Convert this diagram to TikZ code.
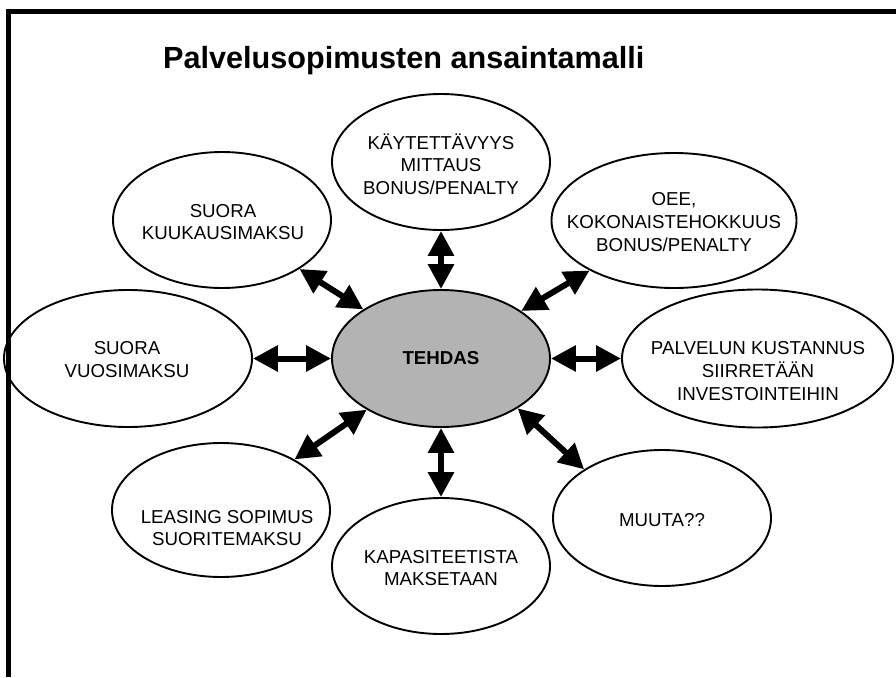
\documentclass[tikz,border=0pt]{standalone}
\usepackage{fontspec}
\setmainfont{Liberation Sans}
\usetikzlibrary{arrows.meta,shapes.geometric}
\definecolor{hubgray}{RGB}{179,179,179}
\begin{document}
\begin{tikzpicture}[x=1pt,y=-1pt,
  bubble/.style={draw, line width=1.9pt, ellipse, inner sep=0pt},
  bubbletext/.style={align=center, font=\fontsize{18.7}{22.7}\selectfont, inner sep=0pt},
  link/.style={line width=6pt,
    {Triangle[width=25pt,length=25pt]}-{Triangle[width=25pt,length=25pt]}}
]
\useasboundingbox (0,0) rectangle (896,677);

% frame
\draw[line width=5pt] (8.5,677) -- (8.5,11.5) -- (896,11.5);

% title
\node[anchor=base west, inner sep=0pt,
      font=\bfseries\fontsize{30.6}{35}\selectfont] (title) at (163,68)
  {Palvelusopimusten ansaintamalli};

% hub
\node[bubble, fill=hubgray, minimum width=218pt, minimum height=137pt] (tehdas) at (441,358.5) {};
\node[bubbletext, font=\bfseries\fontsize{18.7}{22.7}\selectfont] (tehdasT) at (441,358.5) {TEHDAS};

% satellites
\node[bubble, minimum width=218pt, minimum height=136pt] (kaytto) at (441,162) {};
\node[bubble, minimum width=218pt, minimum height=136pt] (kuukausi) at (222,220) {};
\node[bubble, minimum width=245pt, minimum height=135pt] (oee) at (674,220.5) {};
\node[bubble, minimum width=248pt, minimum height=137pt] (vuosi) at (128,358.5) {};
\node[bubble, minimum width=271pt, minimum height=138pt] (palvelu) at (757.5,358.5) {};
\node[bubble, minimum width=218pt, minimum height=134pt] (leasing) at (221,510) {};
\node[bubble, minimum width=218pt, minimum height=136pt] (kapasit) at (441,566) {};
\node[bubble, minimum width=218pt, minimum height=136pt] (muuta) at (662,518) {};

% texts
\node[bubbletext] (kayttoT) at (441,164) {KÄYTETTÄVYYS\\MITTAUS\\BONUS/PENALTY};
\node[bubbletext] (kuukausiT) at (223,222) {SUORA\\KUUKAUSIMAKSU};
\node[bubbletext] (oeeT) at (674,222) {OEE,\\KOKONAISTEHOKKUUS\\BONUS/PENALTY};
\node[bubbletext] (vuosiT) at (127,359.5) {SUORA\\VUOSIMAKSU};
\node[bubbletext] (palveluT) at (758,371) {PALVELUN KUSTANNUS\\SIIRRETÄÄN\\INVESTOINTEIHIN};
\node[bubbletext] (leasingT) at (227,528) {LEASING SOPIMUS\\SUORITEMAKSU};
\node[bubbletext] (kapasitT) at (441,568) {KAPASITEETISTA\\MAKSETAAN};
\node[bubbletext] (muutaT) at (662,520) {MUUTA??};

% connectors
\draw[link] (tehdas) -- (kaytto);
\draw[link] (tehdas) -- (kuukausi);
\draw[link] (tehdas) -- (oee);
\draw[link] (tehdas) -- (vuosi);
\draw[link] (tehdas) -- (palvelu);
\draw[link] (tehdas) -- (leasing);
\draw[link] (tehdas) -- (kapasit);
\draw[link] (tehdas.-33) -- (muuta.148);
\end{tikzpicture}
\end{document}
